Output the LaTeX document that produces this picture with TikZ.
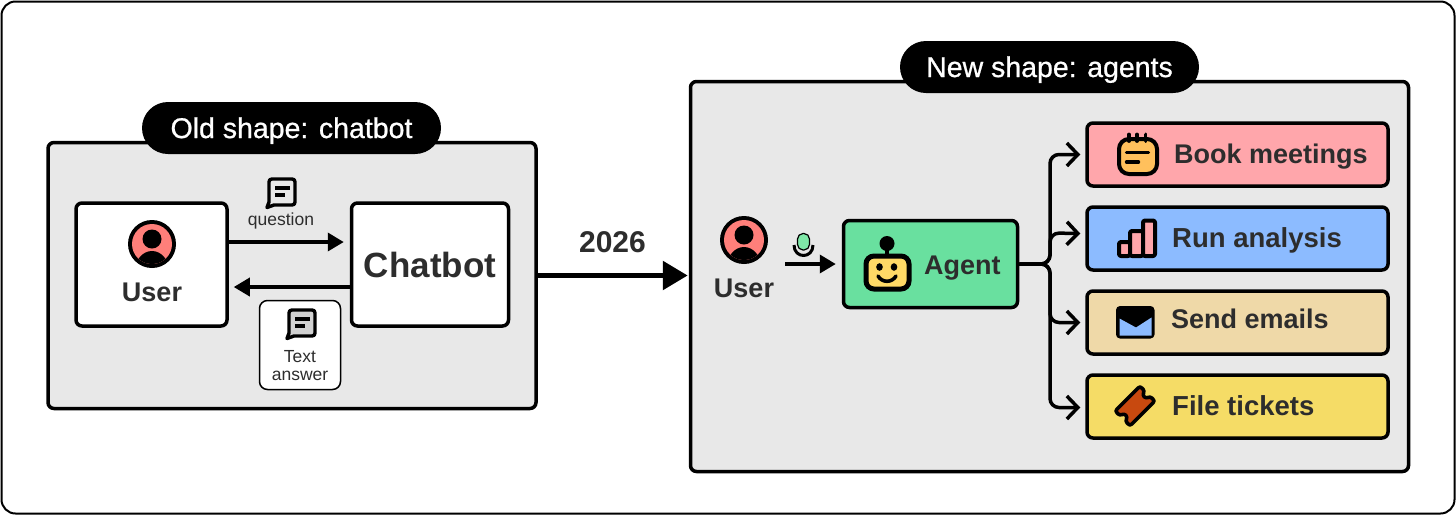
\documentclass[tikz,border=0pt]{standalone}
\usepackage{fontspec}
\setmainfont{Liberation Sans}
\newfontfamily\medfont[FakeBold=0.8]{Liberation Sans}
\usetikzlibrary{arrows.meta,calc}
\definecolor{ink}{HTML}{2D2D2D}
\definecolor{panelgray}{HTML}{E8E8E8}
\definecolor{coral}{HTML}{FF7F7A}
\definecolor{agentgreen}{HTML}{69E09F}
\definecolor{bookpink}{HTML}{FFA6AB}
\definecolor{runblue}{HTML}{8CBBFF}
\definecolor{sendtan}{HTML}{EFD9A8}
\definecolor{fileyellow}{HTML}{F5DC66}
\definecolor{faceyellow}{HTML}{FFD966}
\definecolor{calorange}{HTML}{FFC05C}
\definecolor{ticketred}{HTML}{C8490F}
\definecolor{micgreen}{HTML}{7FE8A8}
\tikzset{
  frame/.style={draw=black,line width=2pt,rounded corners=14pt,fill=white,inner sep=0pt},
  panel/.style={draw=black,line width=3.5pt,rounded corners=6pt,fill=panelgray,inner sep=0pt},
  card/.style={draw=black,line width=3.5pt,rounded corners=6pt,fill=white,inner sep=0pt},
  thincard/.style={draw=black,line width=1.5pt,rounded corners=8pt,fill=white,inner sep=0pt},
  taskbox/.style={draw=black,line width=3.5pt,rounded corners=6pt,inner sep=0pt,minimum width=301pt,minimum height=63pt},
  pill/.style={fill=black,text=white,rounded corners=26pt,inner sep=0pt,minimum height=52pt,minimum width=299pt,text height=20pt,text depth=0pt,font=\medfont\fontsize{28.5}{30}\selectfont},
  boldlabel/.style={text=ink,font=\bfseries\fontsize{#1}{#1}\selectfont,inner sep=0pt,text height={0.72*#1pt},text depth=0pt},
  smalllabel/.style={text=ink,font=\fontsize{17.5}{17.5}\selectfont,inner sep=0pt,align=center},
  arrow/.style={draw=black,line width=3.5pt,-{Triangle[length=16pt,width=18pt]}},
  bigarrow/.style={draw=black,line width=5.5pt,-{Triangle[length=25pt,width=28pt]}},
  branch/.style={draw=black,line width=3.5pt,rounded corners=9pt,-{Straight Barb[length=11pt,width=23pt,line width=3.5pt]}},
  ink stroke/.style={draw=black,line width=#1,line cap=round,line join=round},
}
% person icon
\newcommand{\personicon}[2]{%
  \begin{scope}[shift={(#1,#2)}]
    \fill[black] (0,0) circle[radius=24];
    \begin{scope}
      \clip (0,0) circle[radius=20];
      \fill[coral] (-21,-21) rectangle (21,21);
      \fill[black] (0,27) ellipse[x radius=17,y radius=20];
    \end{scope}
    \fill[black] (0,-5) circle[radius=9.5];
  \end{scope}}
% speech bubble icon
\newcommand{\chaticon}[3]{%
  \begin{scope}[shift={(#1,#2)}]
    \draw[ink stroke=3.4pt,fill=#3] (-14,14.5) -- (-12,9) -- (-12,-11) .. controls (-12,-13) and (-11,-14) .. (-9,-14) -- (11,-14) .. controls (13,-14) and (14,-13) .. (14,-11) -- (14,9) .. controls (14,11) and (13,12) .. (11,12) -- (-7,12) -- cycle;
    \draw[ink stroke=3.2pt,line cap=butt] (-6,-5) -- (9,-5);
    \draw[ink stroke=3.2pt,line cap=butt] (-6,2) -- (4,2);
  \end{scope}}
\begin{document}
\begin{tikzpicture}[x=1pt,y=-1pt]
\useasboundingbox (0,0) rectangle (1456,515);
\node[frame,minimum width=1453pt,minimum height=512pt] (outer) at (728,257.5) {};

% left panel
\node[panel,minimum width=488pt,minimum height=266pt] (oldpanel) at (292,275.5) {};
\node[pill] (oldpill) at (291.5,128) {Old shape: chatbot};
\node[card,minimum width=151pt,minimum height=123pt] (userbox) at (151.5,264.5) {};
\node[card,minimum width=157pt,minimum height=123pt] (chatbot) at (430,264.5) {};
\node[boldlabel=35] (chatbotlabel) at (430,265) {Chatbot};
\personicon{152}{244}
\node[boldlabel=27] (userlabel) at (152,292) {User};
\draw[arrow] ([yshift=22.5pt]userbox.east) -- ([xshift=-6pt,yshift=22.5pt]chatbot.west);
\draw[arrow] ([yshift=-22.5pt]chatbot.west) -- ([xshift=5pt,yshift=-22.5pt]userbox.east);
\chaticon{281}{193}{panelgray}
\node[smalllabel] (question) at (281,220.5) {question};
\node[thincard,minimum width=81pt,minimum height=89pt] (answerbox) at (300,345) {};
\chaticon{301}{324}{black!18}
\node[smalllabel] (answerlabel) at (300,365.5) {Text\\answer};

% right panel
\node[panel,minimum width=718pt,minimum height=390pt] (newpanel) at (1049.5,276.5) {};
\node[pill] (newpill) at (1049.5,67) {New shape: agents};

% transition
\node[boldlabel=30] (year) at (612.5,242) {2026};
\draw[bigarrow] (oldpanel.east) -- ([xshift=-1pt]newpanel.west |- oldpanel.east);

% user and microphone
\personicon{744}{240}
\node[boldlabel=27] (userlabelb) at (744,288) {User};
\coordinate (micstart) at (785,264);
\fill[micgreen,draw=black,line width=1.2pt,rounded corners=5.5pt] (797.5,233.5) rectangle (809.5,250);
\draw[ink stroke=3pt,line cap=butt] (794,245) .. controls (794,259) and (813,259) .. (813,245);
\draw[ink stroke=3pt,line cap=butt] (803.5,254) -- (803.5,257);

% agent
\node[draw=black,line width=3.5pt,rounded corners=6pt,fill=agentgreen,inner sep=0pt,minimum width=174pt,minimum height=87pt] (agent) at (930.5,264) {};
\draw[arrow] (micstart) -- ([xshift=-6pt]micstart -| agent.west);
\draw[ink stroke=3.5pt] (887,244) -- (887,255);
\fill[black] (887,243.5) circle[radius=7.5];
\draw[draw=black,line width=5pt,rounded corners=8pt,fill=faceyellow] (866,256) rectangle (909,289);
\fill[black] (879.5,267) ellipse[x radius=3.3,y radius=3.8];
\fill[black] (894,267) ellipse[x radius=3.3,y radius=3.8];
\draw[ink stroke=3.6pt] (878,276) .. controls (882,283) and (892,283) .. (896,276);
\node[boldlabel=27,anchor=west] (agentlabel) at (924,264.5) {Agent};

% task boxes
\node[taskbox,fill=bookpink] (book) at (1237.5,154.5) {};
\node[taskbox,fill=runblue] (run) at (1237.5,238.5) {};
\node[taskbox,fill=sendtan] (send) at (1237.5,322.5) {};
\node[taskbox,fill=fileyellow] (file) at (1237.5,406.5) {};
\node[boldlabel=27,anchor=west] (booklabel) at (1174,154) {Book meetings};
\node[boldlabel=27.5,anchor=west] (runlabel) at (1172,238) {Run analysis};
\node[boldlabel=27,anchor=west] (sendlabel) at (1171,319) {Send emails};
\node[boldlabel=27.5,anchor=west] (filelabel) at (1172,406) {File tickets};

% branching connectors
\coordinate (bus) at (1050,264);
\draw[branch] (agent.east) -- (bus) -- (bus |- book.west) -- ([xshift=-5pt]book.west);
\draw[branch] (agent.east) -- (bus) -- (1050,233) -- ([xshift=-5pt,yshift=5pt]run.west);
\draw[branch] (agent.east) -- (bus) -- (bus |- send.west) -- ([xshift=-5pt]send.west);
\draw[branch] (agent.east) -- (bus) -- (1050,407.5) -- ([xshift=-5pt,yshift=-1pt]file.west);

% calendar icon
\draw[draw=black,line width=4pt,rounded corners=10pt,fill=calorange] (1119,139) rectangle (1157,174);
\foreach \x in {1129,1137,1145.5}{\draw[ink stroke=3.8pt] (\x,134.5) -- (\x,141);}
\draw[ink stroke=3.4pt] (1126.5,152.5) -- (1148.5,152.5);
\draw[ink stroke=3.4pt] (1126.5,162) -- (1138.5,162);

% chart icon
\draw[draw=black,line width=4pt,line join=round,fill=bookpink,rounded corners=2pt] (1119,242) rectangle (1130,256);
\draw[draw=black,line width=4pt,line join=round,fill=bookpink,rounded corners=2pt] (1130,231) rectangle (1143,256);
\draw[draw=black,line width=4pt,line join=round,fill=bookpink,rounded corners=2pt] (1143,220.5) rectangle (1155,256);

% envelope icon
\fill[black,rounded corners=4pt] (1116,306) rectangle (1154.5,338.5);
\fill[runblue] (1119.5,318.5) -- (1136,327.5) -- (1151.5,317.5) -- (1151.5,335.5) -- (1119.5,335.5) -- cycle;

% ticket icon
\begin{scope}[shift={(1135,406)},rotate=45]
  \draw[draw=black,line width=3.6pt,line join=round,fill=ticketred]
    (-15,-10.5) .. controls (-17,-10.5) and (-17.5,-9.5) .. (-17.5,-8) -- (-17.5,-6)
    .. controls (-17.5,-3) and (-13,-3.5) .. (-13,0)
    .. controls (-13,3.5) and (-17.5,3) .. (-17.5,6)
    -- (-17.5,8) .. controls (-17.5,9.5) and (-17,10.5) .. (-15,10.5)
    -- (15,10.5) .. controls (17,10.5) and (17.5,9.5) .. (17.5,8) -- (17.5,6)
    .. controls (17.5,3) and (13,3.5) .. (13,0)
    .. controls (13,-3.5) and (17.5,-3) .. (17.5,-6)
    -- (17.5,-8) .. controls (17.5,-9.5) and (17,-10.5) .. (15,-10.5) -- cycle;
\end{scope}
\end{tikzpicture}
\end{document}
